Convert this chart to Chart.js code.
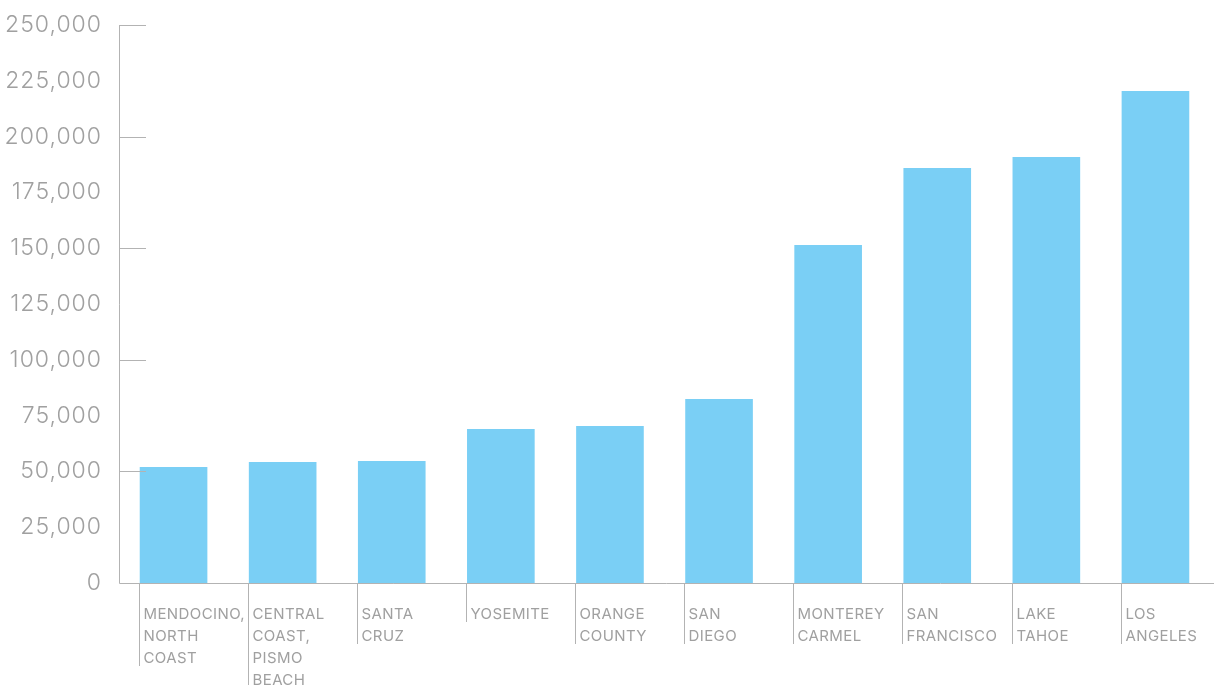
<!DOCTYPE html>
<html>
<head>
<meta charset="utf-8">
<script src="https://cdn.jsdelivr.net/npm/chart.js@4"></script>
<style>
  html, body { margin: 0; padding: 0; background: #fff; }
  #wrap { width: 1214px; height: 685px; }
</style>
</head>
<body>
<div id="wrap"><canvas id="visitorsChart"></canvas></div>
<script>
// data
const regions = [
  ['MENDOCINO,', 'NORTH', 'COAST'],
  ['CENTRAL', 'COAST,', 'PISMO', 'BEACH'],
  ['SANTA', 'CRUZ'],
  ['YOSEMITE'],
  ['ORANGE', 'COUNTY'],
  ['SAN', 'DIEGO'],
  ['MONTEREY', 'CARMEL'],
  ['SAN', 'FRANCISCO'],
  ['LAKE', 'TAHOE'],
  ['LOS', 'ANGELES']
];
const visitors = [52000, 54200, 54700, 69000, 70300, 82400, 151400, 185900, 190900, 220400];
const yMax = 250000;
const yStep = 25000;
const majorStep = 50000;

const lineColor = '#b3b3b3';
const textColor = '#a0a0a0';
const fontFamily = 'Inter, "Open Sans", sans-serif';

// wider tracking for the tick labels
const tracking = {
  id: 'tracking',
  beforeDraw(chart) {
    if ('letterSpacing' in chart.ctx) chart.ctx.letterSpacing = '1px';
  }
};

// axis lines, inner tick marks and the left-aligned category labels
const axisDecor = {
  id: 'axisDecor',
  afterDraw(chart) {
    const ctx = chart.ctx;
    const area = chart.chartArea;
    const y = chart.scales.y;
    const bars = chart.getDatasetMeta(0).data;
    ctx.save();
    ctx.strokeStyle = lineColor;
    ctx.lineWidth = 1;
    ctx.beginPath();
    ctx.moveTo(area.left + 0.5, y.getPixelForValue(yMax));
    ctx.lineTo(area.left + 0.5, y.getPixelForValue(0) + 0.5);
    ctx.lineTo(chart.width, y.getPixelForValue(0) + 0.5);
    for (let v = majorStep; v <= yMax; v += majorStep) {
      const py = Math.round(y.getPixelForValue(v)) + 0.5;
      ctx.moveTo(area.left, py);
      ctx.lineTo(area.left + 27, py);
    }
    ctx.stroke();

    ctx.font = '400 15px ' + fontFamily;
    ctx.fillStyle = textColor;
    ctx.textAlign = 'left';
    ctx.textBaseline = 'alphabetic';
    if ('letterSpacing' in ctx) ctx.letterSpacing = '0.4px';
    const base = y.getPixelForValue(0);
    bars.forEach((bar, i) => {
      const lines = regions[i];
      const left = Math.round(bar.x - bar.width / 2) - 0.5;
      ctx.beginPath();
      ctx.moveTo(left, base + 1);
      ctx.lineTo(left, base + 17 + 22 * lines.length);
      ctx.stroke();
      lines.forEach((t, j) => {
        ctx.fillText(t, left + 4, base + 36 + 22 * j);
      });
    });
    ctx.restore();
  }
};

new Chart(document.getElementById('visitorsChart'), {
  type: 'bar',
  data: {
    labels: regions.map(r => r.join(' ')),
    datasets: [{
      data: visitors,
      backgroundColor: '#7acff5',
      borderWidth: 0,
      barPercentage: 1,
      categoryPercentage: 0.62
    }]
  },
  options: {
    responsive: true,
    maintainAspectRatio: false,
    animation: false,
    layout: { padding: { top: 25, right: 4, left: 0, bottom: 0 } },
    plugins: { legend: { display: false }, tooltip: { enabled: false } },
    scales: {
      x: {
        grid: { display: false },
        border: { display: false },
        ticks: { display: false },
        afterFit(scale) { scale.height = 102; }
      },
      y: {
        min: 0,
        max: yMax,
        grid: { display: false, drawTicks: false },
        border: { display: false },
        ticks: {
          stepSize: yStep,
          padding: 17,
          color: textColor,
          font: { family: fontFamily, size: 23, weight: '300' },
          callback: v => v.toLocaleString('en-US')
        },
        afterFit(scale) {
          scale.width = 119;
          scale.paddingTop = 0;
          scale.paddingBottom = 0;
        }
      }
    }
  },
  plugins: [tracking, axisDecor]
});
</script>
</body>
</html>
